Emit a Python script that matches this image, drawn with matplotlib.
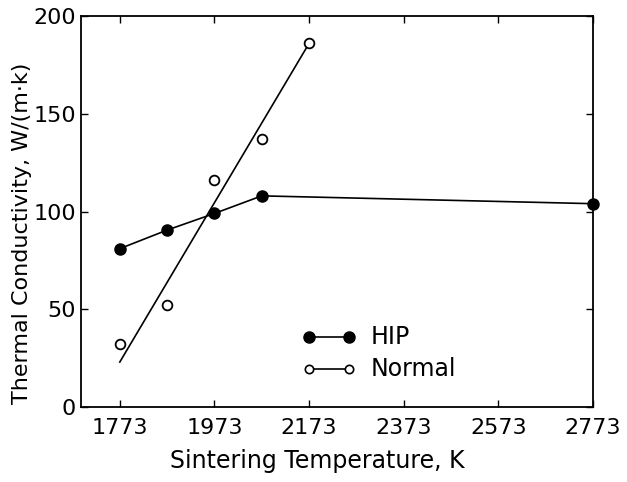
import numpy as np
import matplotlib
matplotlib.use("Agg")
import matplotlib.pyplot as plt

temps = [1773, 1873, 1973, 2073, 2773]
hip = [81, 90.5, 99, 108, 104]

temps_normal = [1773, 1873, 1973, 2073, 2173]
normal = [32, 52, 116, 137, 186]

fit_x = [1773, 2173]
fit_y = [23, 186]

xticks = [1773, 1973, 2173, 2373, 2573, 2773]
yticks = [0, 50, 100, 150, 200]

plt.rcParams['font.family'] = ['DejaVu Sans']

fig = plt.figure(figsize=(6.27, 4.82), dpi=100)
ax = fig.add_axes([81/627, 1 - 407/482, (593-81)/627, (407-16)/482])

ax.plot(temps, hip, 'k-', lw=1.2, marker='o', ms=8, mfc='black', mec='black', clip_on=False)
ax.plot(fit_x, fit_y, 'k-', lw=1.2)
ax.plot(temps_normal, normal, 'o', ms=7, mfc='white', mec='black', mew=1.3, ls='none')

# legend drawn by hand
lx = [1691 + (310-81)/0.4748, 1691 + (350-81)/0.4748]
ax.plot(lx, [36, 36], 'k-', lw=1.2, marker='o', ms=8, mfc='black', mec='black')
ax.plot(lx, [19.5, 19.5], 'k-', lw=1.2, marker='o', ms=6, mfc='white', mec='black', mew=1.2)
ax.text(lx[1] + 45, 36, 'HIP', fontsize=17, va='center')
ax.text(lx[1] + 45, 19.5, 'Normal', fontsize=17, va='center')

ax.set_xlim(1691, 2773)
ax.set_ylim(0, 200)
ax.set_xticks(xticks)
ax.set_yticks(yticks)
ax.tick_params(direction='in', top=True, right=True, length=5, width=1, labelsize=16)
ax.tick_params(axis='x', pad=8)
for s in ax.spines.values():
    s.set_linewidth(1.3)

ax.set_xlabel('Sintering Temperature, K', fontsize=17)
ax.set_ylabel('Thermal Conductivity, W/(m·k)', fontsize=16)
ax.xaxis.set_label_coords((317-81)/512, -(449-407)/391)
ax.yaxis.set_label_coords(-(81-32)/512, (407-233)/391)

fig.savefig('out.png', dpi=100)
